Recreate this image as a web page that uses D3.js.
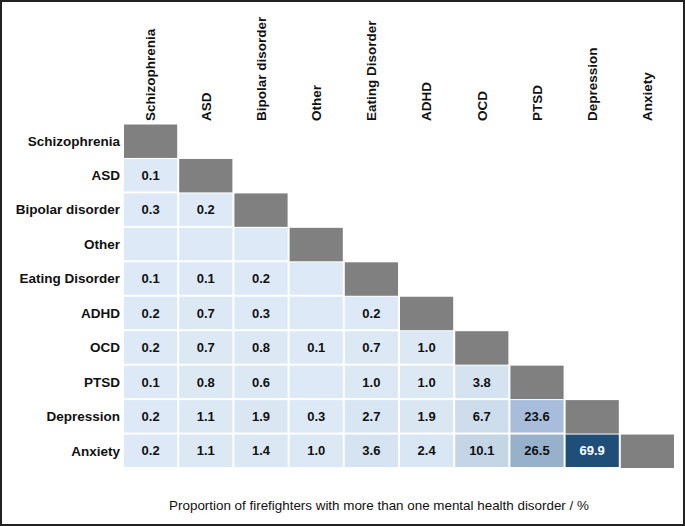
<!DOCTYPE html>
<html>
<head>
<meta charset="utf-8">
<script src="https://cdn.jsdelivr.net/npm/d3@7"></script>
<style>
  html, body { margin: 0; padding: 0; background: #fff; }
  svg { display: block; }
  text { font-family: "Liberation Sans", Arial, sans-serif; }
</style>
</head>
<body>
<div id="chart"></div>
<script>
// disorders, in matrix order
const disorders = ["Schizophrenia", "ASD", "Bipolar disorder", "Other", "Eating Disorder",
                   "ADHD", "OCD", "PTSD", "Depression", "Anxiety"];

// lower triangle, one array per row (null = empty cell)
const rowSchizophrenia = [];
const rowASD = [0.1];
const rowBipolar = [0.3, 0.2];
const rowOther = [null, null, null];
const rowEating = [0.1, 0.1, 0.2, null];
const rowADHD = [0.2, 0.7, 0.3, null, 0.2];
const rowOCD = [0.2, 0.7, 0.8, 0.1, 0.7, 1.0];
const rowPTSD = [0.1, 0.8, 0.6, null, 1.0, 1.0, 3.8];
const rowDepression = [0.2, 1.1, 1.9, 0.3, 2.7, 1.9, 6.7, 23.6];
const rowAnxiety = [0.2, 1.1, 1.4, 1.0, 3.6, 2.4, 10.1, 26.5, 69.9];

const rows = [rowSchizophrenia, rowASD, rowBipolar, rowOther, rowEating,
              rowADHD, rowOCD, rowPTSD, rowDepression, rowAnxiety];

const xTitle = "Proportion of firefighters with more than one mental health disorder / %";

const W = 685, H = 526;
const svg = d3.select("#chart").append("svg")
    .attr("width", W)
    .attr("height", H);

// outer frame
svg.append("rect")
    .attr("x", 1).attr("y", 1)
    .attr("width", W - 2).attr("height", H - 2)
    .attr("fill", "#fff")
    .attr("stroke", "#222")
    .attr("stroke-width", 2);

const x = d3.scaleBand()
    .domain(disorders)
    .range([123, 675]);

const y = d3.scaleBand()
    .domain(disorders)
    .range([123.5, 468]);

const color = d3.scaleLinear()
    .domain([0, 1, 3.8, 10.1, 23.6, 26.5, 69.9])
    .range(["#dde9f6", "#dce9f5", "#d5e3f0", "#c4d6e6", "#a8bddc", "#97b1ca", "#1f4e79"]);

// flatten the triangle into cells
const cells = [];
rows.forEach((vals, i) => {
  vals.forEach((v, j) => {
    cells.push({ row: disorders[i], col: disorders[j], value: v });
  });
});

const gap = 2;

svg.append("g")
  .selectAll("rect")
  .data(cells)
  .join("rect")
    .attr("x", d => x(d.col) + gap / 2)
    .attr("y", d => y(d.row) + gap / 2)
    .attr("width", x.bandwidth() - gap)
    .attr("height", y.bandwidth() - gap)
    .attr("fill", d => d.value == null ? color(0) : color(d.value));

// grey diagonal
svg.append("g")
  .selectAll("rect")
  .data(disorders)
  .join("rect")
    .attr("x", d => x(d) + gap / 2)
    .attr("y", d => y(d) + gap / 2)
    .attr("width", x.bandwidth() - gap)
    .attr("height", y.bandwidth() - gap + 1)
    .attr("fill", "#808080");

// cell values
svg.append("g")
  .selectAll("text")
  .data(cells.filter(d => d.value != null))
  .join("text")
    .attr("x", d => x(d.col) + x.bandwidth() / 2)
    .attr("y", d => y(d.row) + y.bandwidth() / 2)
    .attr("dy", "0.36em")
    .attr("text-anchor", "middle")
    .attr("font-size", 13)
    .attr("font-weight", "bold")
    .attr("fill", d => d.value > 40 ? "#fff" : "#111")
    .text(d => d.value.toFixed(1));

// row labels
svg.append("g")
  .selectAll("text")
  .data(disorders)
  .join("text")
    .attr("x", 120)
    .attr("y", d => y(d) + y.bandwidth() / 2)
    .attr("dy", "0.36em")
    .attr("text-anchor", "end")
    .attr("font-size", 13.5)
    .attr("font-weight", "bold")
    .attr("fill", "#111")
    .text(d => d);

// column labels, rotated
svg.append("g")
  .selectAll("text")
  .data(disorders)
  .join("text")
    .attr("transform", d => `translate(${x(d) + x.bandwidth() / 2},121) rotate(-90)`)
    .attr("dy", "0.36em")
    .attr("text-anchor", "start")
    .attr("font-size", 13.5)
    .attr("font-weight", "bold")
    .attr("fill", "#111")
    .text(d => d);

svg.append("text")
    .attr("x", 379)
    .attr("y", 510)
    .attr("text-anchor", "middle")
    .attr("font-size", 13.4)
    .attr("fill", "#111")
    .text(xTitle);
</script>
</body>
</html>
